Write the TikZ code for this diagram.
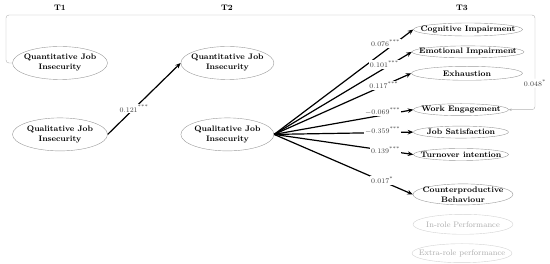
\documentclass[tikz,border=0pt]{standalone}
\usetikzlibrary{shapes.geometric, arrows.meta, positioning}

\begin{document}
\begin{tikzpicture}[
    x=1pt, y=-1pt,
    font=\fontsize{8}{9.5}\selectfont,
    >={Stealth[length=5.5pt, width=4.5pt]},
    construct/.style={
        ellipse,
        draw=gray!80,
        thin,
        align=center,
        inner xsep=-20pt,
        inner ysep=-2pt,
        font=\fontsize{8}{10}\selectfont\bfseries
    },
    faded/.style={
        construct,
        draw=gray!35,
        text=gray!65,
        font=\fontsize{8}{10}\selectfont
    },
    wave/.style={
        font=\fontsize{8}{9}\selectfont\bfseries
    },
    effect/.style={
        ->,
        line width=1.2pt
    },
    coef/.style={
        fill=white,
        inner sep=1pt,
        text=black!75,
        font=\fontsize{7}{8}\selectfont
    },
    feedback/.style={
        ->,
        draw=gray!60,
        thin,
        rounded corners=3pt,
        >={Stealth[length=3pt, width=2.5pt]}
    }
]
\useasboundingbox (0,0) rectangle (550,264);

% Waves
\node[wave] (t1) at (60,8) {T1};
\node[wave] (t2) at (227,8) {T2};
\node[wave] (t3) at (462,8) {T3};

% T1 and T2: job insecurity
\node[construct, minimum width=95pt, minimum height=33pt] (qnT1) at (60,63) {Quantitative Job\\Insecurity};
\node[construct, minimum width=95pt, minimum height=33pt, below=38pt of qnT1] (qlT1) {Qualitative Job\\Insecurity};
\node[construct, minimum width=93pt, minimum height=33pt, right=73pt of qnT1] (qnT2) {Quantitative Job\\Insecurity};
\node[construct, minimum width=93pt, minimum height=33pt, right=73pt of qlT1] (qlT2) {Qualitative Job\\Insecurity};

\draw[effect] (qlT1.east) -- node[coef, pos=0.36] {0.121\textsuperscript{***}} (qnT2.west);

% T3: outcomes
\node[construct, minimum width=109pt, minimum height=13pt] (cog) at (468,29.5) {Cognitive Impairment};
\node[construct, minimum width=112pt, minimum height=12pt, below=9.5pt of cog] (emo) {Emotional Impairment};
\node[construct, minimum width=111pt, minimum height=14pt, below=8pt of emo, xshift=-1pt] (exh) {Exhaustion};
\node[construct, minimum width=95pt, minimum height=12pt, below=23pt of exh, xshift=-6pt] (work) {Work Engagement};
\node[construct, minimum width=95pt, minimum height=12pt, below=10pt of work] (sat) {Job Satisfaction};
\node[construct, minimum width=95pt, minimum height=12pt, below=10pt of sat] (turn) {Turnover intention};
\node[construct, minimum width=100pt, minimum height=21pt, below=23pt of turn, xshift=2pt] (cwb) {Counterproductive\\Behaviour};
\node[faded, minimum width=100pt, minimum height=20pt, below=9pt of cwb] (inrole) {In-role Performance};
\node[faded, minimum width=100pt, minimum height=19pt, below=9pt of inrole, xshift=-1pt] (extra) {Extra-role performance};

\draw[effect] (qlT2.east) -- node[coef, pos=0.8, yshift=7pt] {0.076\textsuperscript{***}} (cog.west);
\draw[effect] (qlT2.east) -- node[coef, pos=0.8, yshift=4pt] {0.101\textsuperscript{***}} (emo.west);
\draw[effect] (qlT2.east) -- node[coef, pos=0.8] {0.117\textsuperscript{***}} (exh.west);
\draw[effect] (qlT2.east) -- node[coef, pos=0.78, yshift=4pt] {$-$0.069\textsuperscript{***}} (work.west);
\draw[effect] (qlT2.east) -- node[coef, pos=0.78, yshift=2pt] {$-$0.359\textsuperscript{***}} (sat.west);
\draw[effect] (qlT2.east) -- node[coef, pos=0.8] {0.139\textsuperscript{***}} (turn.west);
\draw[effect] (qlT2.east) -- node[coef, pos=0.78, yshift=1pt] {0.017\textsuperscript{*}} (cwb.west);

% Cross-lagged path T1 to T3
\coordinate (fbL) at (6,15);
\coordinate (fbR) at (535,15);
\draw[feedback] (qnT1.west) -| (fbL) -- (fbR) |- node[coef, pos=0.36] {0.048\textsuperscript{*}} (work.east);

\end{tikzpicture}
\end{document}
